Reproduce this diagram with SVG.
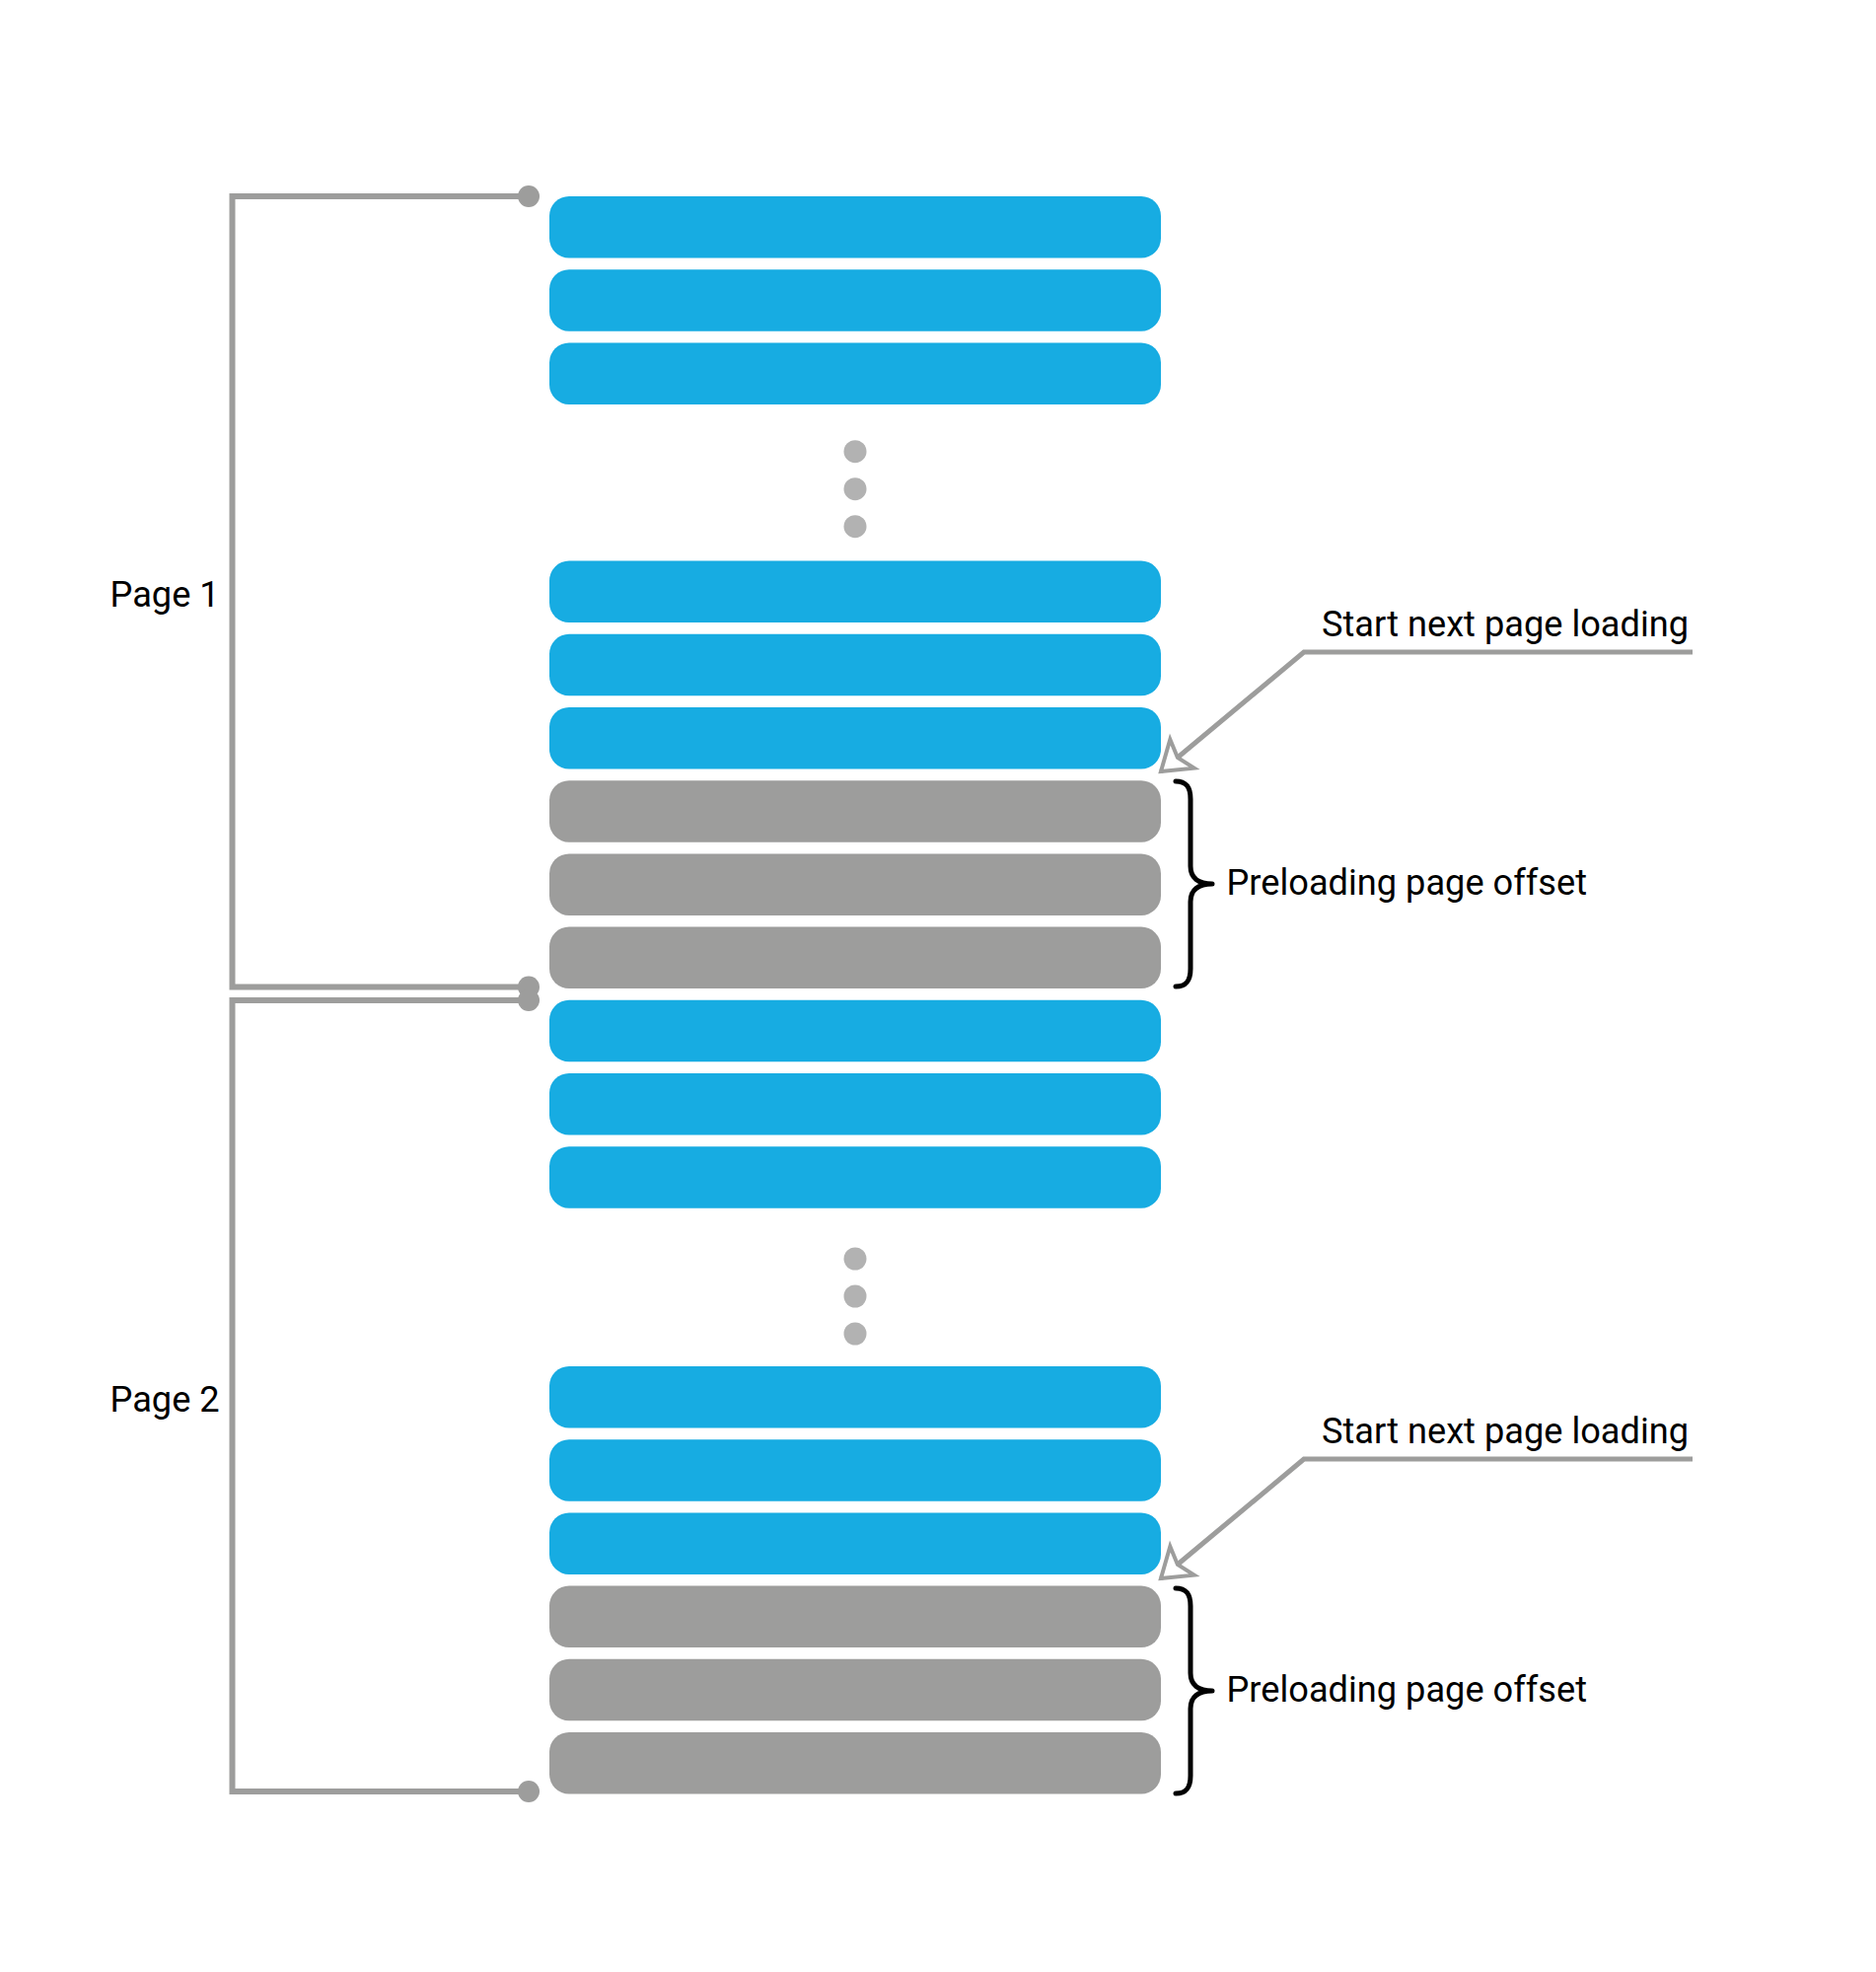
<svg xmlns="http://www.w3.org/2000/svg" width="1902" height="1999" viewBox="0 0 1902 1999">
<style>
.blue{fill:#17ace2}
.gray{fill:#9d9d9c}
.ell{fill:#b2b2b2}
.br{fill:none;stroke:#9d9d9c;stroke-width:6}
.bdot{fill:#9d9d9c}
.lead{fill:none;stroke:#9d9d9c;stroke-width:5}
.brace{fill:none;stroke:#000;stroke-width:5;stroke-linecap:round;stroke-linejoin:round}
.lbl{font-family:Roboto,"Liberation Sans",sans-serif;font-size:36.2px;fill:#000}
</style>
<defs>
<marker id="arr" markerUnits="userSpaceOnUse" markerWidth="60" markerHeight="60" refX="40" refY="30" orient="auto" viewBox="0 0 60 60">
<path d="M40,30 L12,11 L18,30 L12,49 Z" fill="#fff" stroke="#9d9d9c" stroke-width="4" stroke-linejoin="miter"/>
</marker>
</defs>
<rect width="1902" height="1999" fill="#fff"/>
<g id="rows">
<rect class="blue" x="557" y="199" width="620" height="62.5" rx="20"/>
<rect class="blue" x="557" y="273.2" width="620" height="62.5" rx="20"/>
<rect class="blue" x="557" y="347.4" width="620" height="62.5" rx="20"/>
<rect class="blue" x="557" y="568.6" width="620" height="62.5" rx="20"/>
<rect class="blue" x="557" y="642.8" width="620" height="62.5" rx="20"/>
<rect class="blue" x="557" y="717" width="620" height="62.5" rx="20"/>
<rect class="gray" x="557" y="791.2" width="620" height="62.5" rx="20"/>
<rect class="gray" x="557" y="865.4" width="620" height="62.5" rx="20"/>
<rect class="gray" x="557" y="939.6" width="620" height="62.5" rx="20"/>
<rect class="blue" x="557" y="1013.8" width="620" height="62.5" rx="20"/>
<rect class="blue" x="557" y="1088" width="620" height="62.5" rx="20"/>
<rect class="blue" x="557" y="1162.2" width="620" height="62.5" rx="20"/>
<rect class="blue" x="557" y="1385" width="620" height="62.5" rx="20"/>
<rect class="blue" x="557" y="1459.2" width="620" height="62.5" rx="20"/>
<rect class="blue" x="557" y="1533.4" width="620" height="62.5" rx="20"/>
<rect class="gray" x="557" y="1607.6" width="620" height="62.5" rx="20"/>
<rect class="gray" x="557" y="1681.8" width="620" height="62.5" rx="20"/>
<rect class="gray" x="557" y="1756" width="620" height="62.5" rx="20"/>
</g>
<g id="ellipsis1">
<circle class="ell" cx="867" cy="457.7" r="11.5"/>
<circle class="ell" cx="867" cy="495.7" r="11.5"/>
<circle class="ell" cx="867" cy="533.7" r="11.5"/>
</g>
<g id="ellipsis2">
<circle class="ell" cx="867" cy="1276" r="11.5"/>
<circle class="ell" cx="867" cy="1314" r="11.5"/>
<circle class="ell" cx="867" cy="1352" r="11.5"/>
</g>
<g id="page1">
<path class="br" d="M536,199 H235.5 V1000.5 H536"/>
<circle class="bdot" cx="536" cy="199" r="11"/>
<circle class="bdot" cx="536" cy="1000.5" r="11"/>
<text class="lbl" x="111.5" y="615">Page 1</text>
</g>
<g id="page2">
<path class="br" d="M536,1014 H235.5 V1816 H536"/>
<circle class="bdot" cx="536" cy="1014" r="11"/>
<circle class="bdot" cx="536" cy="1816" r="11"/>
<text class="lbl" x="111.5" y="1431">Page 2</text>
</g>
<g id="connectors">
<path class="lead" d="M1716,661 H1322 L1177,782" marker-end="url(#arr)"/>
<path class="lead" d="M1716,1479 H1322 L1177,1600" marker-end="url(#arr)"/>
</g>
<g id="note1">
<text class="lbl" x="1340" y="645">Start next page loading</text>
</g>
<g id="offset1">
<path class="brace" d="M1192,792 C1203,792 1207,798 1207,810 L1207,878 C1207,890 1215,896 1229,896 C1215,896 1207,902 1207,914 L1207,982 C1207,994 1203,1000 1192,1000"/>
<text class="lbl" x="1243.5" y="907">Preloading page offset</text>
</g>
<g id="note2">
<text class="lbl" x="1340" y="1463">Start next page loading</text>
</g>
<g id="offset2">
<path class="brace" d="M1192,1610 C1203,1610 1207,1616 1207,1628 L1207,1696 C1207,1708 1215,1714 1229,1714 C1215,1714 1207,1720 1207,1732 L1207,1800 C1207,1812 1203,1818 1192,1818"/>
<text class="lbl" x="1243.5" y="1725">Preloading page offset</text>
</g>
</svg>
